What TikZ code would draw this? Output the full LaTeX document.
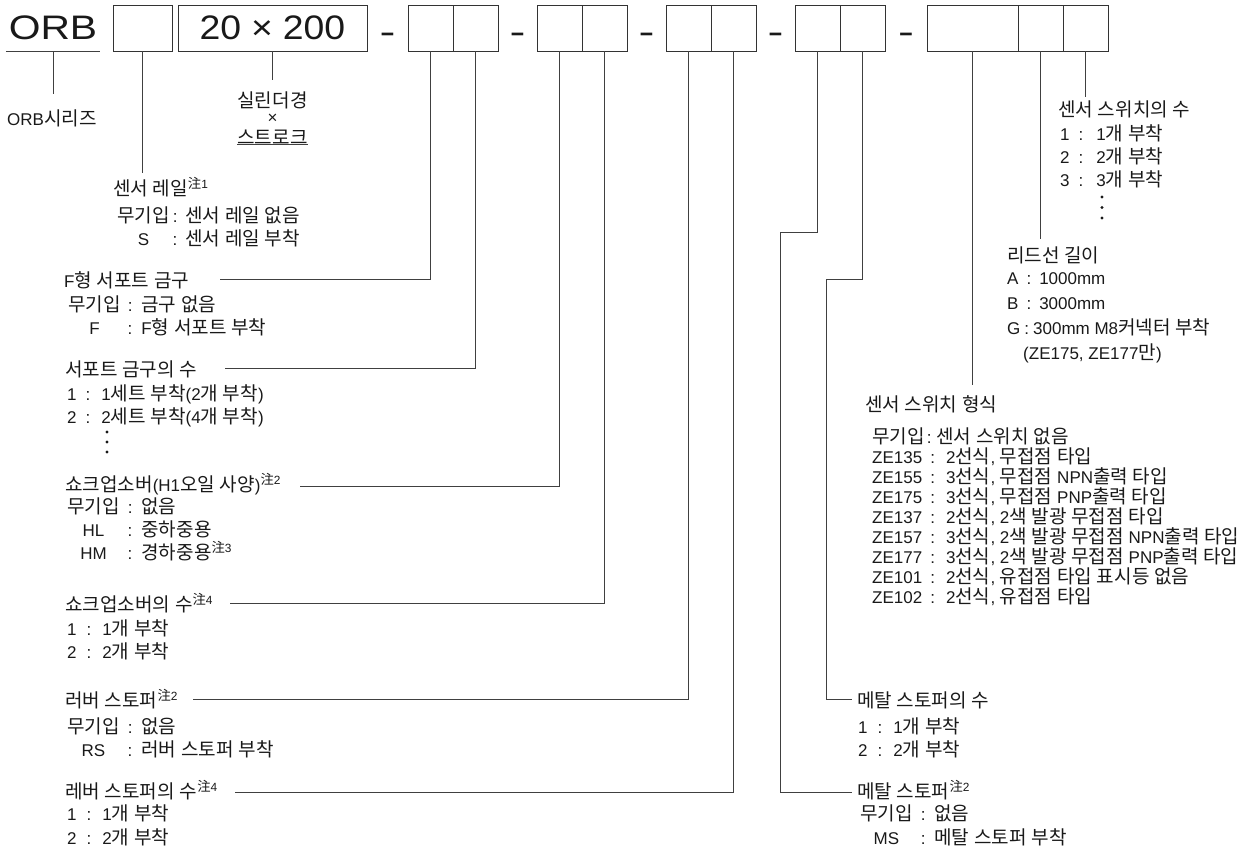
\documentclass[tikz,border=0pt]{standalone}
\usepackage{fontspec}
\usepackage{graphicx}
\setmainfont{Liberation Sans}
\newfontfamily\krfont{Noto Sans CJK KR}[Scale=1.12]

% Hangul (and 注) switch to the Korean font by themselves
\XeTeXinterchartokenstate=1
\newXeTeXintercharclass\krclass
\newcount\hgcnt
\hgcnt="AC00
\loop
  \XeTeXcharclass\hgcnt=\krclass
  \ifnum\hgcnt<"D7A3 \advance\hgcnt by 1
\repeat
\XeTeXcharclass"6CE8=\krclass
\XeTeXinterchartoks 0 \krclass={\krfont}
\XeTeXinterchartoks 4095 \krclass={\krfont}
\XeTeXinterchartoks \krclass 0={\rmfamily}
\XeTeXinterchartoks \krclass 4095={\rmfamily}

\newcommand\chumark[1]{\textsuperscript{注#1}}
% key : value rows with a fixed row pitch
\newcommand\optrows[4][c]{%
  \setbox\strutbox\hbox{\vrule height.84\baselineskip depth.16\baselineskip width0pt}%
  \begin{tabular}[t]{@{}#1@{\hspace{#2pt}:\hspace{#3pt}}l@{}}#4\end{tabular}}

\tikzset{
  cell/.style={draw=black!80, line width=0.9pt, minimum height=46pt, inner sep=0pt},
  big/.style={inner sep=0pt, text=black!90, font=\fontsize{34}{34}\selectfont},
  lbl/.style={anchor=base west, inner sep=0pt, text=black!90, font=\fontsize{17}{23}\selectfont},
  wire/.style={draw=black!75, line width=0.8pt},
}

\begin{document}
\begin{tikzpicture}[x=1pt, y=-1pt]
\useasboundingbox (0,0) rectangle (1248,849);

% model code
\node (orb) [big, minimum width=94pt, minimum height=46pt] at (53,28) {\scalebox{1.2}[1]{ORB}};
\node (b1) [cell, minimum width=59pt] at (142.5,28) {};
\node (b2) [cell, big, minimum width=189pt] at (272.5,28) {\scalebox{1.1}[1]{20\hspace{9pt}×\hspace{9pt}200}};
\node (d1) [big, anchor=base] at (387.5,43) {\scalebox{1.4}[1]{-}};
\node (p1a) [cell, minimum width=45pt] at (430.5,28) {};
\node (p1b) [cell, minimum width=45pt] at (475.5,28) {};
\node (d2) [big, anchor=base] at (517.5,43) {\scalebox{1.4}[1]{-}};
\node (p2a) [cell, minimum width=45pt] at (559.5,28) {};
\node (p2b) [cell, minimum width=45pt] at (604.5,28) {};
\node (d3) [big, anchor=base] at (646.5,43) {\scalebox{1.4}[1]{-}};
\node (p3a) [cell, minimum width=45pt] at (688.5,28) {};
\node (p3b) [cell, minimum width=45pt] at (733.5,28) {};
\node (d4) [big, anchor=base] at (775.5,43) {\scalebox{1.4}[1]{-}};
\node (p4a) [cell, minimum width=45pt] at (817.5,28) {};
\node (p4b) [cell, minimum width=45pt] at (862.5,28) {};
\node (d5) [big, anchor=base] at (906,43) {\scalebox{1.4}[1]{-}};
\node (g5a) [cell, minimum width=91pt] at (972.5,28) {};
\node (g5b) [cell, minimum width=45pt] at (1040.5,28) {};
\node (g5c) [cell, minimum width=45pt] at (1085.5,28) {};

% left column
\node (orbs) [lbl] at (7,125) {ORB시리즈};
\node (cyl1) [lbl, anchor=base] at (272.5,107) {실린더경};
\node (cylx) [lbl, anchor=base] at (272.5,123) {×};
\node (cyls) [lbl, anchor=base] at (272.5,144) {스트로크};
\node (rail) [lbl] at (113,195) {센서 레일\chumark{1}};
\node (railopt) [lbl] at (117,222) {\optrows{3}{8}{무기입 & 센서 레일 없음\\ S & 센서 레일 부착}};
\node (fsup) [lbl] at (64,287) {F형 서포트 금구};
\node (fsupopt) [lbl] at (68,311) {\optrows{7}{9}{무기입 & 금구 없음\\ F & F형 서포트 부착}};
\node (nsup) [lbl] at (65,376) {서포트 금구의 수};
\node (nsupopt) [lbl] at (67,400) {\optrows{9}{11}{1 & 1세트 부착(2개 부착)\\ 2 & 2세트 부착(4개 부착)}};
\node (shock) [lbl] at (65,491) {쇼크업소버(H1오일 사양)\chumark{2}};
\node (shockopt) [lbl] at (67,513) {\optrows{8}{9}{무기입 & 없음\\ HL & 중하중용\\ HM & 경하중용\chumark{3}}};
\node (nshock) [lbl] at (65,611) {쇼크업소버의 수\chumark{4}};
\node (nshockopt) [lbl] at (67,635) {\optrows{10}{11}{1 & 1개 부착\\ 2 & 2개 부착}};
\node (rub) [lbl] at (65,707) {러버 스토퍼\chumark{2}};
\node (rubopt) [lbl] at (67,733) {\optrows{8}{9}{무기입 & 없음\\ RS & 러버 스토퍼 부착}};
\node (nrub) [lbl] at (65,798) {레버 스토퍼의 수\chumark{4}};
\node (nrubopt) [lbl, font=\fontsize{17}{24.5}\selectfont] at (67,820) {\optrows{10}{11}{1 & 1개 부착\\ 2 & 2개 부착}};
\fill[black!90] (107,432) circle (1.6pt);
\fill[black!90] (107,442) circle (1.6pt);
\fill[black!90] (107,452) circle (1.6pt);

% right column
\node (swnum) [lbl] at (1058,116) {센서 스위치의 수};
\node (swnumopt) [lbl] at (1060,140) {\optrows{9}{13}{1 & 1개 부착\\ 2 & 2개 부착\\ 3 & 3개 부착}};
\fill[black!90] (1102,197) circle (1.6pt);
\fill[black!90] (1102,207.5) circle (1.6pt);
\fill[black!90] (1102,218) circle (1.6pt);
\node (lead) [lbl] at (1007,262) {리드선 길이};
\node (leadopt) [lbl, font=\fontsize{17}{25}\selectfont] at (1007,284) {\optrows{8}{8}{A & 1000mm\\ B & 3000mm\\
  \multicolumn{2}{@{}l@{}}{G\hspace{4pt}:\hspace{4pt}300mm M8커넥터 부착}\\
  \multicolumn{2}{@{}l@{}}{\hspace{16pt}(ZE175, ZE177만)}}};
\node (swtype) [lbl] at (865,411) {센서 스위치 형식};
\node (swtypeopt) [lbl, font=\fontsize{17}{20.1}\selectfont] at (872,443) {\optrows[l]{8}{11}{%
  \multicolumn{2}{@{}l@{}}{무기입\hspace{2pt}:\hspace{5pt}센서 스위치 없음}\\
  ZE135 & 2선식, 무접점 타입\\
  ZE155 & 3선식, 무접점 NPN출력 타입\\
  ZE175 & 3선식, 무접점 PNP출력 타입\\
  ZE137 & 2선식, 2색 발광 무접점 타입\\
  ZE157 & 3선식, 2색 발광 무접점 NPN출력 타입\\
  ZE177 & 3선식, 2색 발광 무접점 PNP출력 타입\\
  ZE101 & 2선식, 유접점 타입 표시등 없음\\
  ZE102 & 2선식, 유접점 타입}};
\node (mnum) [lbl] at (857,707) {메탈 스토퍼의 수};
\node (mnumopt) [lbl] at (858,733) {\optrows{10}{11}{1 & 1개 부착\\ 2 & 2개 부착}};
\node (metal) [lbl] at (857,798) {메탈 스토퍼\chumark{2}};
\node (metalopt) [lbl, font=\fontsize{17}{24.5}\selectfont] at (860,820) {\optrows{8}{9}{무기입 & 없음\\ MS & 메탈 스토퍼 부착}};

% turning points of the leader lines
\coordinate (fsupend) at (220,279);
\coordinate (nsupend) at (225,368);
\coordinate (shockend) at (300,486);
\coordinate (nshockend) at (230,603);
\coordinate (rubend) at (193,699);
\coordinate (nrubend) at (235,792);
\coordinate (mturn) at (780,232);
\coordinate (metalend) at (852,792);
\coordinate (nturn) at (826,279);
\coordinate (mnumend) at (852,699);

% leader lines
\draw[wire] (orb.south west) -- (orb.south east);
\draw[wire] (cyls.south west) -- (cyls.south east);
\draw[wire, shorten >=15pt] (orb.south) -- (orb.south |- orbs.north);
\draw[wire, shorten >=11pt] (b2.south) -- (b2.south |- cyl1.north);
\draw[wire, shorten >=4pt] (b1.south) -- (b1.south |- rail.north);
\draw[wire] (p1a.south) |- (fsupend);
\draw[wire] (p1b.south) |- (nsupend);
\draw[wire] (p2a.south) |- (shockend);
\draw[wire] (p2b.south) |- (nshockend);
\draw[wire] (p3a.south) |- (rubend);
\draw[wire] (p3b.south) |- (nrubend);
\draw[wire] (p4a.south) |- (mturn) |- (metalend);
\draw[wire] (p4b.south) |- (nturn) |- (mnumend);
\draw[wire, shorten >=10pt] (g5a.south) -- (g5a.south |- swtype.north);
\draw[wire, shorten >=7pt] (g5b.south) -- (g5b.south |- lead.north);
\draw[wire, shorten >=3pt] (g5c.south) -- (g5c.south |- swnum.north);
\end{tikzpicture}
\end{document}
